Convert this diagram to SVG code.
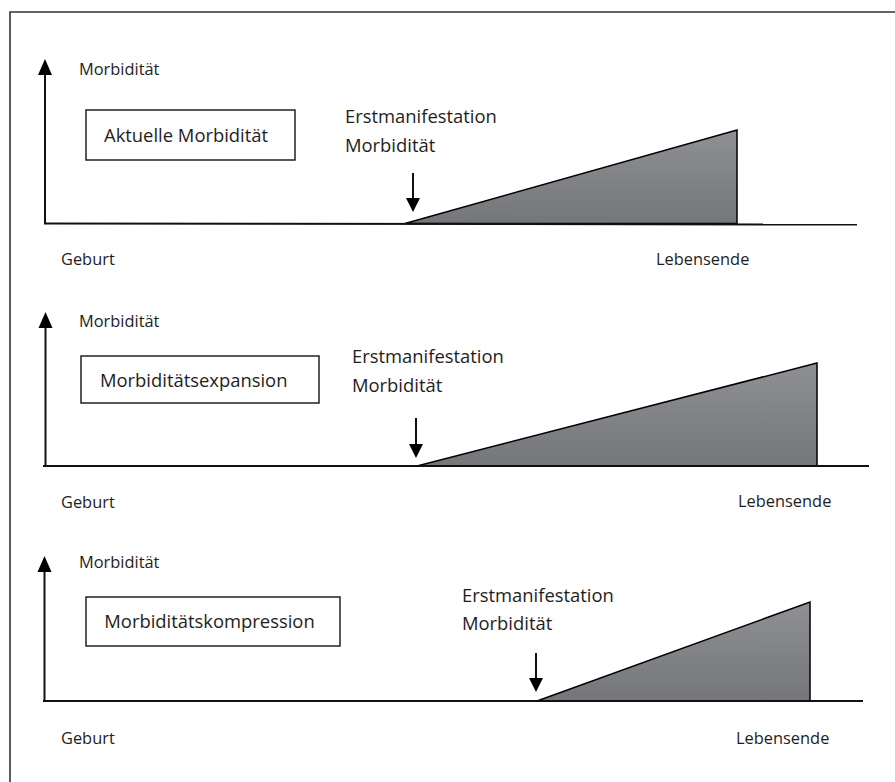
<svg xmlns="http://www.w3.org/2000/svg" width="895" height="782" viewBox="0 0 895 782">
<style>
  text { font-family: "Open Sans", "Noto Sans", "DejaVu Sans", sans-serif; fill: #1e1e1e; }
  .small { font-size: 16.4px; }
  .big { font-size: 18.4px; }
  .axis { stroke: #111; stroke-width: 2; fill: none; }
  .head { fill: #000; }
  .box { fill: #fff; stroke: #222; stroke-width: 1.5; }
  .area { fill: url(#grey); stroke: #000; stroke-width: 1.5; stroke-linejoin: miter; }
  .frame { stroke: #333; stroke-width: 1.6; fill: none; }
</style>
<defs>
  <linearGradient id="grey" x1="0" y1="0" x2="0" y2="1">
    <stop offset="0" stop-color="#8f9094"/>
    <stop offset="1" stop-color="#75767a"/>
  </linearGradient>
</defs>
<rect width="895" height="782" fill="#fff"/>
<path class="frame" d="M10,782 V12 H895"/>

<g id="panel1">
  <g id="p1-area"><polygon class="area" points="405,223.5 737,130 737,223.5"/></g>
  <g id="p1-axes">
    <line class="axis" x1="45" y1="224" x2="45" y2="72"/>
    <polygon class="head" points="45,59 38,75 52,75"/>
    <line class="axis" x1="44" y1="223.5" x2="857" y2="224.5"/>
  </g>
  <text class="small" x="79" y="74.5">Morbidität</text>
  <g id="p1-box">
    <rect class="box" x="86" y="110" width="209" height="50"/>
    <text class="big" x="104" y="141.7">Aktuelle Morbidität</text>
  </g>
  <g id="p1-onset">
    <text class="big" x="345" y="122.5">Erstmanifestation</text>
    <text class="big" x="345" y="151.5">Morbidität</text>
  </g>
  <g id="p1-marker">
    <line class="axis" stroke-width="1.5" x1="413" y1="173" x2="413" y2="200"/>
    <polygon class="head" points="406,198 420,198 413,212"/>
  </g>
  <text class="small" x="61" y="265">Geburt</text>
  <text class="small" x="656" y="265">Lebensende</text>
</g>

<g id="panel2">
  <g id="p2-area"><polygon class="area" points="417,466 817,363 817,466"/></g>
  <g id="p2-axes">
    <line class="axis" x1="45.5" y1="466.5" x2="45.5" y2="325"/>
    <polygon class="head" points="45.5,312 38.5,328 52.5,328"/>
    <line class="axis" x1="43" y1="466" x2="869" y2="466"/>
  </g>
  <text class="small" x="79" y="326.7">Morbidität</text>
  <g id="p2-box">
    <rect class="box" x="81" y="356" width="238" height="47"/>
    <text class="big" x="100" y="386.7">Morbiditätsexpansion</text>
  </g>
  <g id="p2-onset">
    <text class="big" x="352" y="363.3">Erstmanifestation</text>
    <text class="big" x="352" y="391.7">Morbidität</text>
  </g>
  <g id="p2-marker">
    <line class="axis" stroke-width="1.5" x1="416" y1="418" x2="416" y2="446"/>
    <polygon class="head" points="409,444 423,444 416,458"/>
  </g>
  <text class="small" x="61" y="508">Geburt</text>
  <text class="small" x="738" y="507">Lebensende</text>
</g>

<g id="panel3">
  <g id="p3-area"><polygon class="area" points="537,701 810,602 810,701"/></g>
  <g id="p3-axes">
    <line class="axis" x1="44.5" y1="701.5" x2="44.5" y2="569"/>
    <polygon class="head" points="44.5,556 37.5,572 51.5,572"/>
    <line class="axis" x1="43" y1="701" x2="863" y2="701"/>
  </g>
  <text class="small" x="79" y="568.3">Morbidität</text>
  <g id="p3-box">
    <rect class="box" x="86" y="597" width="254" height="49"/>
    <text class="big" x="104.3" y="628.3">Morbiditätskompression</text>
  </g>
  <g id="p3-onset">
    <text class="big" x="462" y="601.7">Erstmanifestation</text>
    <text class="big" x="462" y="630">Morbidität</text>
  </g>
  <g id="p3-marker">
    <line class="axis" stroke-width="1.5" x1="536" y1="653" x2="536" y2="680"/>
    <polygon class="head" points="529,678 543,678 536,692"/>
  </g>
  <text class="small" x="61" y="744">Geburt</text>
  <text class="small" x="736" y="744">Lebensende</text>
</g>
</svg>
